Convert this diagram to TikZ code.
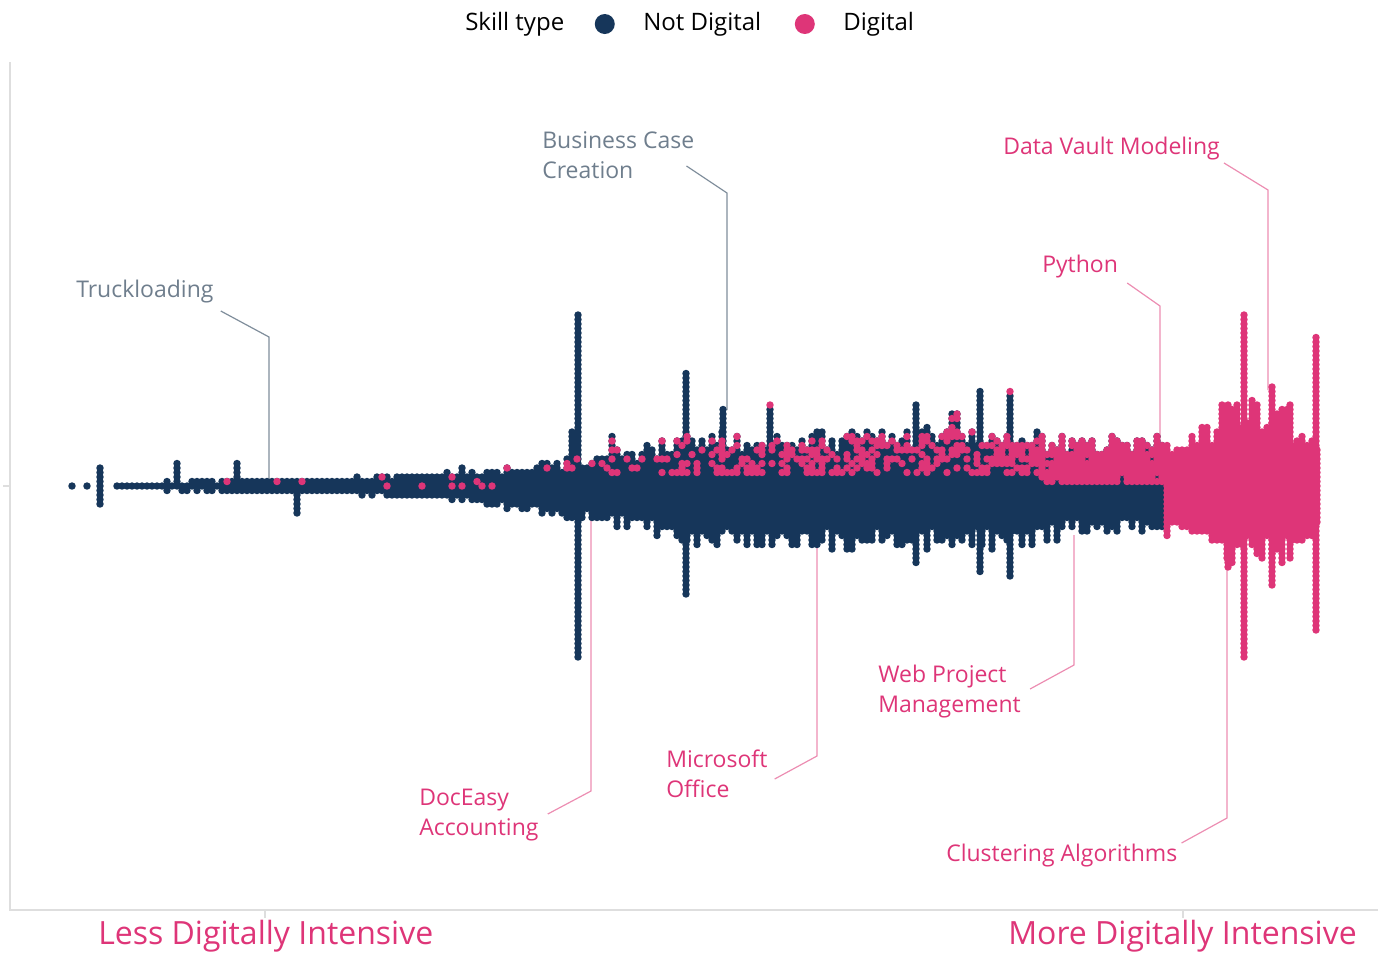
\documentclass[tikz,border=0pt]{standalone}
\usepackage{fontspec}
\setmainfont{Open Sans}
\usetikzlibrary{positioning}
\definecolor{navy}{HTML}{16365A}
\definecolor{pinkd}{HTML}{DE3578}
\definecolor{greytxt}{HTML}{6F7E8D}
\definecolor{greyln}{HTML}{7F8D9B}
\definecolor{pinkln}{HTML}{EC8DB2}
\definecolor{axisgrey}{HTML}{DEDEDE}
\pgfdeclarelayer{back}
\pgfdeclarelayer{swarm}
\pgfsetlayers{back,swarm,main}
\tikzset{
  navycol/.style={draw=navy, line width=5.6pt, line cap=round, dash pattern=on 0pt off 3.375pt},
  pinkcol/.style={navycol, draw=pinkd},
  pinkdot/.style={fill=pinkd},
  legdot/.style={circle, minimum size=15pt, inner sep=0pt},
  greylabel/.style={text=greytxt, font=\fontsize{17.25}{22.5}\selectfont, inner sep=0pt, align=left, anchor=west},
  pinklabel/.style={greylabel, text=pinkd},
  greyline/.style={draw=greyln, line width=0.9pt},
  pinkline/.style={draw=pinkln, line width=0.9pt},
  axisline/.style={draw=axisgrey, line width=0.9pt},
}
\newcommand\swarmcol[4]{\draw[#4] (#1,{486-(#2)*4.5}) -- (#1,{486+(#3)*4.5+0.2});}

\begin{document}
\begin{tikzpicture}[x=0.75pt, y=-0.75pt, font=\fontsize{18}{21}\selectfont]
  \useasboundingbox (0,0) rectangle (1385,958);
  %
  % legend
  \node[anchor=west, inner sep=0pt] (skill) at (465,24) {Skill type};
  \node[legdot, fill=navy, right=22.5pt of skill] (keynd) {};
  \node[inner sep=0pt, right=21pt of keynd] (notdig) {Not Digital};
  \node[legdot, fill=pinkd, right=24.75pt of notdig] (keyd) {};
  \node[inner sep=0pt, right=21pt of keyd] (dig) {Digital};
  %
  % axes
  \begin{pgfonlayer}{back}
    \draw[axisline] (10,62) -- (10,910) -- (1378,910);
    \draw[axisline] (3,486) -- (10,486);
    \draw[axisline] (265,910) -- (265,918);
    \draw[axisline] (1183,910) -- (1183,918);
  \end{pgfonlayer}
  \node[text=pinkd, font=\fontsize{24}{28}\selectfont, anchor=west, inner sep=0pt] (less) at (98,936) {Less Digitally Intensive};
  \node[text=pinkd, font=\fontsize{24}{28}\selectfont, anchor=east, inner sep=0pt] (more) at (1357,936) {More Digitally Intensive};
  %
  % labels
  \node[greylabel] (truck) at (76,292) {Truckloading};
  \node[greylabel] (bcc) at (542,155) {Business Case\\Creation};
  \node[pinklabel] (dvm) at (1003,149) {Data Vault Modeling};
  \node[pinklabel] (python) at (1042,267) {Python};
  \node[pinklabel] (doc) at (419,815) {DocEasy\\Accounting};
  \node[pinklabel] (mso) at (666,774) {Microsoft\\Office};
  \node[pinklabel] (wpm) at (878,692) {Web Project\\Management};
  \node[pinklabel] (clust) at (946,856) {Clustering Algorithms};
  %
  \coordinate (truckk) at (269,337);  \coordinate (trucke) at (269,484);
  \coordinate (bcck) at (727,193);    \coordinate (bcce) at (727,410);
  \coordinate (dvmk) at (1268,190);   \coordinate (dvme) at (1268,390);
  \coordinate (pythonk) at (1160,306);\coordinate (pythone) at (1160,440);
  \coordinate (dock) at (591,791);    \coordinate (doce) at (591,510);
  \coordinate (msok) at (817,756);    \coordinate (msoe) at (817,535);
  \coordinate (wpmk) at (1074,665);   \coordinate (wpme) at (1074,535);
  \coordinate (clustk) at (1227,818); \coordinate (cluste) at (1227,560);
  \begin{pgfonlayer}{back}
    \draw[greyline] ([shift={(7,19)}]truck.east) -- (truckk) -- (trucke);
    \draw[greyline] ([shift={(-8,11)}]bcc.east) -- (bcck) -- (bcce);
    \draw[pinkline] ([shift={(4,14)}]dvm.east) -- (dvmk) -- (dvme);
    \draw[pinkline] ([shift={(9,16)}]python.east) -- (pythonk) -- (pythone);
    \draw[pinkline] ([shift={(9,-1)}]doc.east) -- (dock) -- (doce);
    \draw[pinkline] ([shift={(7,5)}]mso.east) -- (msok) -- (msoe);
    \draw[pinkline] ([shift={(9,-3)}]wpm.east) -- (wpmk) -- (wpme);
    \draw[pinkline] ([shift={(4,-13)}]clust.east) -- (clustk) -- (cluste);
  \end{pgfonlayer}
  %
  % swarm
  \pgfmathsetseed{2024}
  \foreach \xa/\xb/\ua/\ub/\la/\lb/\pk in {
      117/302/1.5/4/1.5/4/0.02, 302/452/4/11/4/13/0.07, 452/522/11/15/13/20/0.12,
      522/602/15/28/20/32/0.2, 602/702/28/45/32/52/0.3, 702/1002/45/48/52/55/0.4,
      1002/1042/48/46/55/48/0.55, 1042/1167/46/42/48/38/0.95,
      1167/1222/46/55/45/55/2, 1222/1292/72/70/68/68/2, 1292/1322/55/50/50/50/2}{
    \pgfmathsetmacro\xn{\xa+5}
    \pgfmathsetmacro\xe{\xb-1}
    \foreach \x in {\xa,\xn,...,\xe}{
      \pgfmathsetmacro\tfr{(\x-\xa)/(\xb-\xa)}
      \pgfmathtruncatemacro\nup{round((\ua+(\ub-\ua)*\tfr)*(0.7+0.45*rnd)/4.5 + (rnd<0.07)*5*rnd)}
      \pgfmathtruncatemacro\nlo{round((\la+(\lb-\la)*\tfr)*(0.7+0.45*rnd)/4.5 + (rnd<0.07)*5*rnd)}
      \ifdim\pk pt>1pt
        \swarmcol{\x}{\nup}{\nlo}{pinkcol}
      \else
        \begin{pgfonlayer}{swarm}
          \swarmcol{\x}{\nup}{\nlo}{navycol}
        \end{pgfonlayer}
        \pgfmathtruncatemacro\km{\x<500 ? 0 : (\x<1042 ? 3 : 1)}
        \ifnum\nup<\km\else
          \foreach \kk in {\km,...,\nup}{
            \pgfmathtruncatemacro\hit{rnd<\pk}
            \ifnum\hit=1 \fill[pinkdot] (\x,{486-\kk*4.5}) circle[radius=2.8pt];\fi
          }
        \fi
      \fi
    }
  }
  % tall columns
  \begin{pgfonlayer}{swarm}
    \foreach \x/\nup/\nlo in {72/0/0, 87/0/0, 100/4/4, 572/12/7, 578/38/38, 686/25/24,
        723/17/8, 770/17/8, 916/18/17, 980/21/19, 1010/20/20}{
      \swarmcol{\x}{\nup}{\nlo}{navycol}
    }
  \end{pgfonlayer}
  \fill[pinkdot] (770,{486-18*4.5}) circle[radius=2.8pt];
  \fill[pinkdot] (1010,{486-21*4.5}) circle[radius=2.8pt];
  \foreach \x/\nup/\nlo in {1228/18/18, 1244/38/38, 1272/22/22, 1290/18/16, 1316/33/32}{
    \swarmcol{\x}{\nup}{\nlo}{pinkcol}
  }
\end{tikzpicture}
\end{document}
